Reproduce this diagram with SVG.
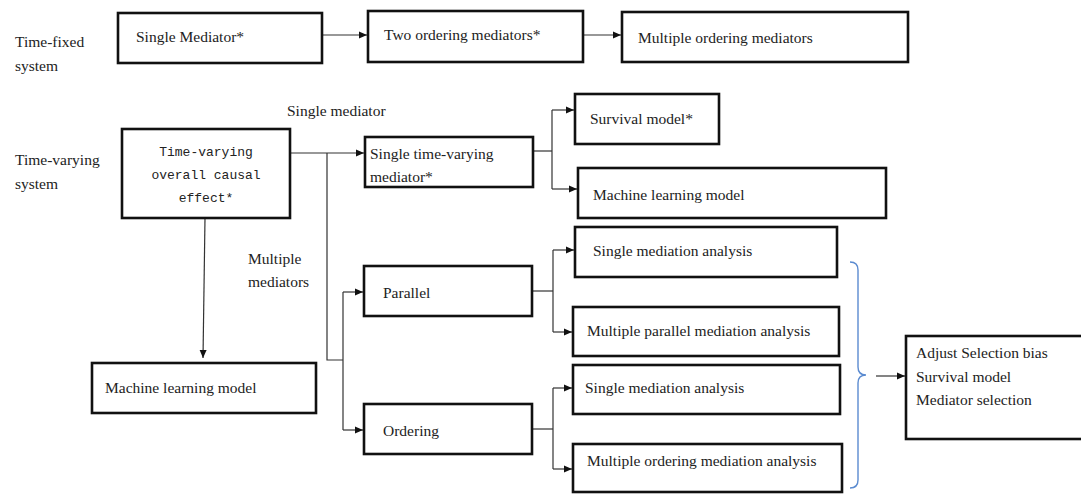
<svg xmlns="http://www.w3.org/2000/svg" width="1081" height="494" viewBox="0 0 1081 494">
<defs>
<marker id="arr" viewBox="0 0 8 8" refX="8" refY="4" markerWidth="8" markerHeight="8" markerUnits="userSpaceOnUse" orient="auto">
<path d="M0,0.5 L8,4 L0,7.5 z" fill="#111"/>
</marker>
</defs>
<style>
.box{fill:#fff;stroke:#111;stroke-width:2.6}
.t{font-family:"Liberation Serif","Times New Roman",serif;font-size:15.5px;fill:#222}
.m{font-family:"Liberation Mono","Courier New",monospace;font-size:13px;fill:#222;text-anchor:middle}
.c{fill:none;stroke:#333;stroke-width:1.2}
.ca{fill:none;stroke:#333;stroke-width:1.2;marker-end:url(#arr)}
.brace{fill:none;stroke:#5b8bd0;stroke-width:1.4}
</style>
<rect width="1081" height="494" fill="#fff"/>

<g id="labels">
<text class="t" x="15" y="47">Time-fixed</text>
<text class="t" x="15" y="71">system</text>
<text class="t" x="15" y="165">Time-varying</text>
<text class="t" x="15" y="189">system</text>
<text class="t" x="287" y="116">Single mediator</text>
<text class="t" x="248" y="264">Multiple</text>
<text class="t" x="248" y="287">mediators</text>
</g>

<g id="connectors">
<line class="ca" x1="322" y1="35" x2="367" y2="35"/>
<line class="ca" x1="583" y1="35" x2="621" y2="35"/>
<line class="ca" x1="290" y1="153" x2="364" y2="153"/>
<polyline class="c" points="327,153 327,360 343,360"/>
<line class="c" x1="343" y1="292" x2="343" y2="430"/>
<line class="ca" x1="343" y1="292" x2="363" y2="292"/>
<line class="ca" x1="343" y1="430" x2="363" y2="430"/>
<line class="ca" x1="205" y1="218" x2="203" y2="358"/>
<line class="c" x1="533" y1="151" x2="552" y2="151"/>
<line class="c" x1="552" y1="110" x2="552" y2="189"/>
<line class="ca" x1="552" y1="110" x2="574" y2="110"/>
<line class="ca" x1="552" y1="189" x2="577" y2="189"/>
<line class="c" x1="532" y1="291" x2="553" y2="291"/>
<line class="c" x1="553" y1="250" x2="553" y2="332"/>
<line class="ca" x1="553" y1="250" x2="574" y2="250"/>
<line class="ca" x1="553" y1="332" x2="572" y2="332"/>
<line class="c" x1="532" y1="429" x2="553" y2="429"/>
<line class="c" x1="553" y1="388" x2="553" y2="469"/>
<line class="ca" x1="553" y1="388" x2="572" y2="388"/>
<line class="ca" x1="553" y1="469" x2="572" y2="469"/>
<path class="brace" d="M850,262 Q858,262 858,270 L858,367 Q858,375 866,375 Q858,375 858,383 L858,480 Q858,488 850,488"/>
<line class="ca" x1="876" y1="376" x2="905" y2="376"/>
</g>

<g id="n-single-mediator">
<rect class="box" x="118" y="13" width="204" height="50"/>
<text class="t" x="136" y="42">Single Mediator*</text>
</g>
<g id="n-two-ordering">
<rect class="box" x="368" y="11" width="215" height="51"/>
<text class="t" x="384" y="40">Two ordering mediators*</text>
</g>
<g id="n-multiple-ordering">
<rect class="box" x="622" y="12" width="286" height="50"/>
<text class="t" x="638" y="43">Multiple ordering mediators</text>
</g>
<g id="n-time-varying">
<rect class="box" x="122" y="129" width="168" height="89"/>
<text class="m" x="206" y="156">Time-varying</text>
<text class="m" x="206" y="179">overall causal</text>
<text class="m" x="206" y="202">effect*</text>
</g>
<g id="n-single-tv-mediator">
<rect class="box" x="365" y="137" width="168" height="50"/>
<text class="t" x="370" y="159">Single time-varying</text>
<text class="t" x="370" y="182">mediator*</text>
</g>
<g id="n-survival">
<rect class="box" x="575" y="94" width="144" height="50"/>
<text class="t" x="590" y="124">Survival model*</text>
</g>
<g id="n-ml-right">
<rect class="box" x="578" y="168" width="308" height="50"/>
<text class="t" x="593" y="200">Machine learning model</text>
</g>
<g id="n-ml-left">
<rect class="box" x="92" y="363" width="224" height="50"/>
<text class="t" x="105" y="393">Machine learning model</text>
</g>
<g id="n-parallel">
<rect class="box" x="364" y="266" width="168" height="50"/>
<text class="t" x="383" y="298">Parallel</text>
</g>
<g id="n-ordering">
<rect class="box" x="364" y="404" width="168" height="50"/>
<text class="t" x="383" y="436">Ordering</text>
</g>
<g id="n-single-med-1">
<rect class="box" x="575" y="227" width="262" height="50"/>
<text class="t" x="593" y="256">Single mediation analysis</text>
</g>
<g id="n-multi-parallel">
<rect class="box" x="573" y="307" width="266" height="49"/>
<text class="t" x="587" y="336">Multiple parallel mediation analysis</text>
</g>
<g id="n-single-med-2">
<rect class="box" x="573" y="365" width="267" height="49"/>
<text class="t" x="585" y="393">Single mediation analysis</text>
</g>
<g id="n-multi-ordering">
<rect class="box" x="573" y="444" width="269" height="48"/>
<text class="t" x="587" y="466">Multiple ordering mediation analysis</text>
</g>
<g id="n-result">
<rect class="box" x="906" y="336" width="180" height="103"/>
<text class="t" x="916" y="358">Adjust Selection bias</text>
<text class="t" x="916" y="382">Survival model</text>
<text class="t" x="916" y="405">Mediator selection</text>
</g>
</svg>
